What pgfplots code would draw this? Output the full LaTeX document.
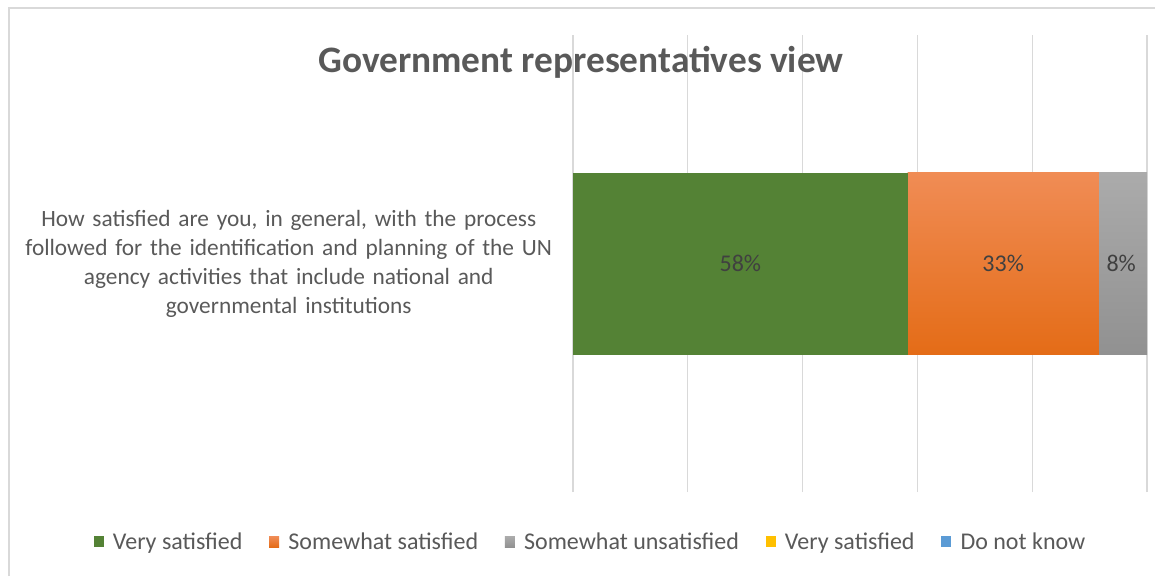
\documentclass[border=0pt]{standalone}
\usepackage{pgfplots}
\pgfplotsset{compat=1.18}
\usepackage{fontspec}
\setmainfont{Carlito}
\definecolor{cgreen}{HTML}{548235}
\definecolor{corangeT}{HTML}{F08C55}
\definecolor{corangeB}{HTML}{E46C17}
\definecolor{corange}{HTML}{ED7D31}
\definecolor{cgrayT}{HTML}{ABABAB}
\definecolor{cgrayB}{HTML}{919191}
\definecolor{cgray}{HTML}{A5A5A5}
\definecolor{cyellow}{HTML}{FFC000}
\definecolor{cblue}{HTML}{5B9BD5}
\definecolor{gridc}{HTML}{D9D9D9}
\definecolor{framec}{HTML}{D9D9D9}
\definecolor{labelc}{HTML}{595959}
\definecolor{dlabelc}{HTML}{404040}
\pgfplotstableread{
y v1 v2 v3
0 0.583 0.333 0.084
}\datatable
\begin{document}
\begin{tikzpicture}[x=1pt,y=1pt]
\path[use as bounding box] (0,0) rectangle (866.25,432);
\draw[color=framec, line width=1.5pt] (6.75,0) -- (6.75,426) -- (866.25,426);
\begin{axis}[
  at={(429.75pt,63pt)}, anchor=south west,
  scale only axis, width=430.5pt, height=342.75pt,
  xbar stacked,
  xmin=0, xmax=1, ymin=-1, ymax=1,
  bar width=136.5pt,
  axis line style={draw=none},
  tick style={draw=none},
  xmajorgrids,
  grid style={color=gridc, line width=1pt},
  xtick={0,0.2,0.4,0.6,0.8,1},
  xticklabels={},
  ytick={0},
  yticklabel={How satisfied are you, in general, with the process\\followed for the identification and planning of the UN\\agency activities that include national and\\governmental institutions},
  yticklabel style={text width=420pt, align=center, inner sep=0pt, xshift=-3pt,
    font=\fontsize{17.5}{21.75}\selectfont, text=labelc},
  legend style={at={(0.031,-0.109)}, anchor=center, legend columns=5, draw=none,
    font=\fontsize{18}{20}\selectfont, text=labelc,
    /tikz/every odd column/.append style={column sep=5pt},
    /tikz/every even column/.append style={column sep=18pt}},
  legend image code/.code={\fill[#1] (0pt,-4pt) rectangle (7.5pt,4pt);},
  clip=false,
]
\addplot[draw=none, fill=cgreen] table[x=v1, y=y] {\datatable};
\addlegendentry{Very satisfied}
\addplot[draw=none, top color=corangeT, bottom color=corangeB, fill=corange] table[x=v2, y=y] {\datatable};
\addlegendentry{Somewhat satisfied}
\addplot[draw=none, top color=cgrayT, bottom color=cgrayB, fill=cgray] table[x=v3, y=y] {\datatable};
\addlegendentry{Somewhat unsatisfied}
\addlegendimage{draw=none, fill=cyellow}
\addlegendentry{Very satisfied}
\addlegendimage{draw=none, fill=cblue}
\addlegendentry{Do not know}
\coordinate (l1) at (axis cs:0.2915,0);
\coordinate (l2) at (axis cs:0.7495,0);
\coordinate (l3) at (axis cs:0.955,0);
\node[font=\bfseries\fontsize{28}{32}\selectfont, text=labelc] at (rel axis cs:0.014,0.94) {Government representatives view};
\end{axis}
\node[font=\fontsize{18}{20}\selectfont, text=dlabelc] at (l1) {58\%};
\node[font=\fontsize{18}{20}\selectfont, text=dlabelc] at (l2) {33\%};
\node[font=\fontsize{18}{20}\selectfont, text=dlabelc] at (l3) {8\%};
\end{tikzpicture}
\end{document}
